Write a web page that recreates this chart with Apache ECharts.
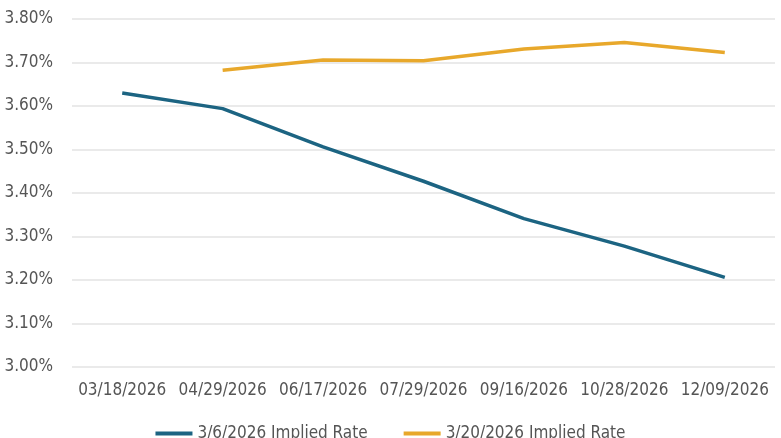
<!DOCTYPE html>
<html><head><meta charset="utf-8">
<script src="https://cdn.jsdelivr.net/npm/echarts@6/dist/echarts.min.js"></script>
<style>html,body{margin:0;padding:0;background:#fff}#c{width:781px;height:438px}</style>
</head><body><div id="c"></div>
<script>
const categories = ['03/18/2026','04/29/2026','06/17/2026','07/29/2026','09/16/2026','10/28/2026','12/09/2026'];
const seriesNames = ['3/6/2026 Implied Rate','3/20/2026 Implied Rate'];
const rateMar6 = [3.630, 3.594, 3.506, 3.427, 3.341, 3.278, 3.206];
const rateMar20 = [null, 3.682, 3.706, 3.704, 3.731, 3.746, 3.723];
const yTicks = {min: 3.0, max: 3.8, interval: 0.1};

const font = '"Liberation Sans Narrow","DejaVu Sans Condensed",sans-serif';
const chart = echarts.init(document.getElementById('c'), null, {renderer:'canvas'});
chart.setOption({
  animation:false,
  grid:{left:72,right:6,top:19,bottom:71},
  legend:{
    bottom:-9, left:'center', itemGap:36, itemWidth:37, itemHeight:4,
    icon:'rect',
    textStyle:{fontFamily:font,fontSize:17,color:'#555'},
    data:seriesNames
  },
  xAxis:{
    type:'category', data:categories, boundaryGap:true,
    axisLine:{show:false}, axisTick:{show:false},
    axisLabel:{fontFamily:font,fontSize:17,color:'#555',margin:15,interval:0,hideOverlap:false}
  },
  yAxis:{
    type:'value', min:yTicks.min, max:yTicks.max, interval:yTicks.interval,
    axisLine:{show:false}, axisTick:{show:false},
    splitLine:{lineStyle:{color:'#e3e3e3',width:1.5}},
    axisLabel:{fontFamily:font,fontSize:17,color:'#555',margin:19,
      formatter:v=>v.toFixed(2)+'%'}
  },
  series:[
    {name:seriesNames[0],type:'line',data:rateMar6,symbol:'none',
      lineStyle:{color:'#1c6482',width:3.5},itemStyle:{color:'#1c6482'}},
    {name:seriesNames[1],type:'line',data:rateMar20,symbol:'none',
      lineStyle:{color:'#e8a82b',width:3.5},itemStyle:{color:'#e8a82b'}}
  ]
});
</script></body></html>
